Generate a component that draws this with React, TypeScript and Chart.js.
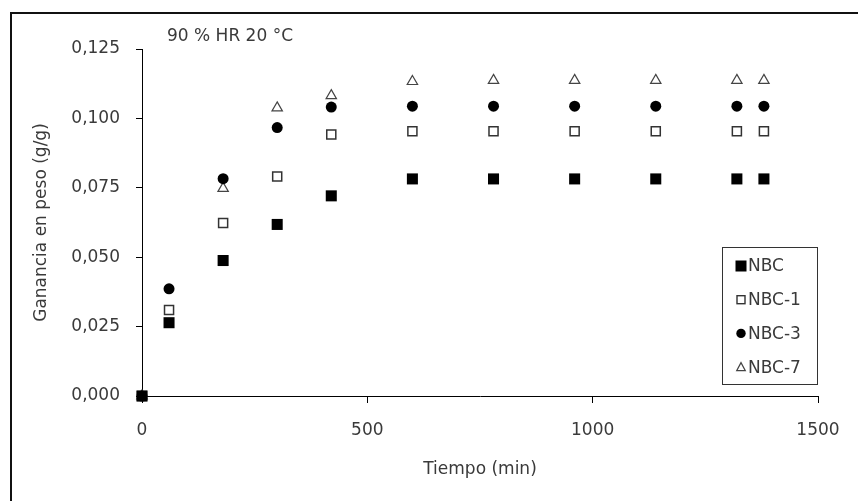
import React, { useEffect, useRef } from 'react';
import { Chart, registerables } from 'chart.js';

Chart.register(...registerables);

// ---- data ----
const times = [0, 60, 180, 300, 420, 600, 780, 960, 1140, 1320, 1380];
const nbc = [0, 0.0264, 0.0488, 0.0618, 0.0721, 0.0782, 0.0782, 0.0782, 0.0782, 0.0782, 0.0782];
const nbc1 = [0, 0.031, 0.0623, 0.0791, 0.0942, 0.0954, 0.0954, 0.0954, 0.0954, 0.0954, 0.0954];
const nbc3 = [0, 0.0386, 0.0783, 0.0967, 0.1041, 0.1044, 0.1044, 0.1044, 0.1044, 0.1044, 0.1044];
const nbc7 = [0, null, 0.0748, 0.1038, 0.1082, 0.1133, 0.1137, 0.1137, 0.1137, 0.1137, 0.1137];
const seriesNames = ['NBC', 'NBC-1', 'NBC-3', 'NBC-7'];
const xTickValues = [0, 500, 1000, 1500];
const yTickValues = [0, 0.025, 0.05, 0.075, 0.1, 0.125];
const chartTitle = '90 % HR 20 °C';
const xTitle = 'Tiempo (min)';
const yTitle = 'Ganancia en peso (g/g)';

const FONT = 'DejaVu Sans';
const TEXT = '#3a3a3a';

function pts(vals: (number | null)[]) {
  return times
    .map((t, i) => (vals[i] === null ? null : { x: t, y: vals[i] as number }))
    .filter((p) => p !== null) as { x: number; y: number }[];
}

const framePlugin = {
  id: 'frame',
  beforeDraw(chart: any) {
    const ctx = chart.ctx;
    ctx.save();
    ctx.fillStyle = '#fff';
    ctx.fillRect(0, 0, chart.width, chart.height);
    ctx.fillStyle = '#111';
    ctx.fillRect(10, 12, 2, chart.height - 12);
    ctx.fillRect(10, 12, chart.width - 10, 2);
    ctx.restore();
  },
  afterDraw(chart: any) {
    const ctx = chart.ctx;
    ctx.save();
    ctx.font = `17px "${FONT}"`;
    ctx.fillStyle = TEXT;
    ctx.textBaseline = 'alphabetic';
    ctx.textAlign = 'left';
    ctx.fillText(chartTitle, 167, 41);

    const bx = 722.5, by = 247.5, bw = 95, bh = 137;
    ctx.fillStyle = '#fff';
    ctx.fillRect(bx, by, bw, bh);
    ctx.strokeStyle = '#333';
    ctx.lineWidth = 1;
    ctx.strokeRect(bx, by, bw, bh);
    const rowY0 = 266;
    const rowGap = 33.7;
    const mx = 741;
    seriesNames.forEach((name, i) => {
      const y = rowY0 + i * rowGap;
      ctx.save();
      if (i === 0) {
        ctx.fillStyle = '#000';
        ctx.fillRect(mx - 5.5, y - 5.5, 11, 11);
      } else if (i === 1) {
        ctx.strokeStyle = '#333';
        ctx.lineWidth = 1.4;
        ctx.strokeRect(mx - 4, y - 4, 8, 8);
      } else if (i === 2) {
        ctx.fillStyle = '#000';
        ctx.beginPath();
        ctx.arc(mx, y, 4.7, 0, Math.PI * 2);
        ctx.fill();
      } else {
        ctx.strokeStyle = '#444';
        ctx.lineWidth = 1.2;
        ctx.beginPath();
        ctx.moveTo(mx, y - 4.5);
        ctx.lineTo(mx + 4.3, y + 3.5);
        ctx.lineTo(mx - 4.3, y + 3.5);
        ctx.closePath();
        ctx.stroke();
      }
      ctx.restore();
      ctx.font = `17px "${FONT}"`;
      ctx.fillStyle = TEXT;
      ctx.textBaseline = 'middle';
      ctx.fillText(name, 748, y + 1);
    });
    ctx.restore();
  },
};

export default function App() {
  const ref = useRef<HTMLCanvasElement | null>(null);

  useEffect(() => {
    if (!ref.current) return;
    // listed bottom-most first; NBC is drawn last so it sits on top
    const chart = new Chart(ref.current, {
      type: 'scatter',
      data: {
        datasets: [
          {
            label: seriesNames[3],
            data: pts(nbc7),
            pointStyle: 'triangle',
            pointRadius: 6,
            backgroundColor: '#fff',
            borderColor: '#444',
            borderWidth: 1.2,
            clip: false,
            order: 3,
          },
          {
            label: seriesNames[2],
            data: pts(nbc3),
            pointStyle: 'circle',
            pointRadius: 5.5,
            backgroundColor: '#000',
            borderColor: '#000',
            borderWidth: 0,
            clip: false,
            order: 2,
          },
          {
            label: seriesNames[1],
            data: pts(nbc1),
            pointStyle: 'rect',
            pointRadius: 6.4,
            backgroundColor: '#fff',
            borderColor: '#333',
            borderWidth: 1.5,
            clip: false,
            order: 1,
          },
          {
            label: seriesNames[0],
            data: pts(nbc),
            pointStyle: 'rect',
            pointRadius: 7.8,
            backgroundColor: '#000',
            borderColor: '#000',
            borderWidth: 0,
            clip: false,
            order: 0,
          },
        ],
      },
      options: {
        animation: false,
        responsive: false,
        maintainAspectRatio: false,
        devicePixelRatio: 1,
        layout: { padding: { top: 49, right: 40, left: 0, bottom: 0 }, autoPadding: false },
        plugins: {
          legend: { display: false },
          tooltip: { enabled: false },
          title: { display: false },
        },
        scales: {
          x: {
            type: 'linear',
            min: 0,
            max: 1500,
            afterBuildTicks: (s: any) => {
              s.ticks = xTickValues.map((v) => ({ value: v }));
            },
            afterFit: (s: any) => {
              s.height = 105;
            },
            ticks: {
              font: { family: FONT, size: 17 },
              color: TEXT,
              padding: 17,
              maxRotation: 0,
              callback: (v: any) => String(v),
            },
            grid: {
              display: true,
              drawOnChartArea: false,
              drawTicks: true,
              tickLength: 7,
              color: '#000',
              lineWidth: 1,
            },
            border: { display: true, color: '#000', width: 1 },
            title: {
              display: true,
              text: xTitle,
              font: { family: FONT, size: 17 },
              color: TEXT,
              padding: { top: 0, bottom: 21 },
            },
          },
          y: {
            type: 'linear',
            min: 0,
            max: 0.125,
            afterBuildTicks: (s: any) => {
              s.ticks = yTickValues.map((v) => ({ value: v }));
            },
            afterFit: (s: any) => {
              s.width = 142;
            },
            ticks: {
              font: { family: FONT, size: 17 },
              color: TEXT,
              padding: 16,
              callback: (v: any) => Number(v).toFixed(3).replace('.', ','),
            },
            grid: {
              display: true,
              drawOnChartArea: false,
              drawTicks: true,
              tickLength: 6,
              color: '#000',
              lineWidth: 1,
            },
            border: { display: true, color: '#000', width: 1 },
            title: {
              display: true,
              text: yTitle,
              font: { family: FONT, size: 17 },
              color: TEXT,
              padding: { top: 31, bottom: 0 },
            },
          },
        },
      },
      plugins: [framePlugin],
    } as any);
    return () => chart.destroy();
  }, []);

  return (
    <div style={{ position: 'absolute', left: 0, top: 0, width: 858, height: 501, background: '#fff' }}>
      <canvas ref={ref} width={858} height={501} style={{ display: 'block', width: 858, height: 501 }} />
    </div>
  );
}
